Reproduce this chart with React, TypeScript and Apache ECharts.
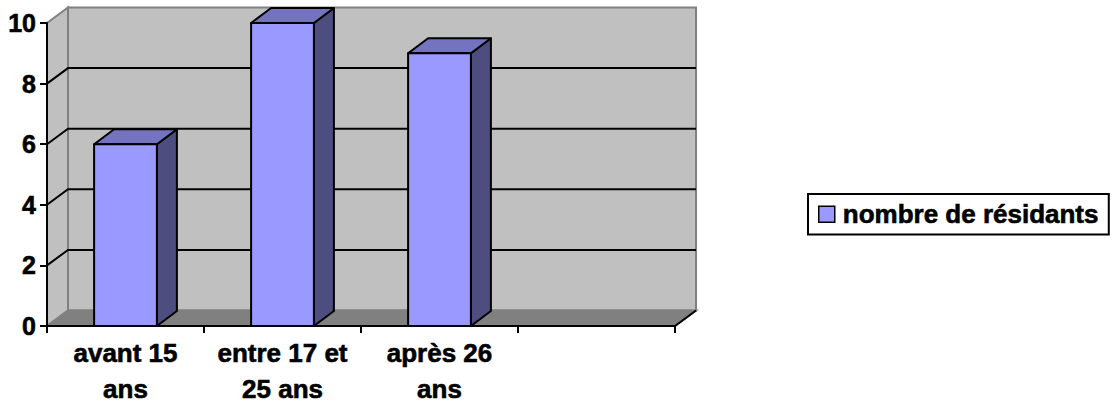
import React, { useEffect, useRef } from "react";
import * as echarts from "echarts";

const categories = ["avant 15\nans", "entre 17 et\n25 ans", "après 26\nans", ""];
const residents = [6, 10, 9];
const yTicks = [0, 2, 4, 6, 8, 10];
const seriesName = "nombre de résidants";

const WALL_DX = 21;
const WALL_DY = -15.5;
const BAR_DX = 20;
const BAR_DY = -15;
const FRONT = "#9999FF";
const TOP = "#7373BF";
const SIDE = "#4D4D80";
const WALL = "#C0C0C0";
const FLOOR = "#808080";
const EDGE = "#808080";
const FONT = "'Liberation Sans', Arial, Helvetica, sans-serif";

export default function App() {
  const ref = useRef<HTMLDivElement>(null);

  useEffect(() => {
    const chart = echarts.init(ref.current!, null, { renderer: "svg" });
    const yMin = yTicks[0];
    const yMax = yTicks[yTicks.length - 1];
    const heavy = { textBorderColor: "#000", textBorderWidth: 0.6 };

    const option: any = {
      animation: false,
      backgroundColor: "#ffffff",
      textStyle: { fontFamily: FONT, fontWeight: "bold", color: "#000" },
      grid: { left: 47, right: 444, top: 23, bottom: 76, containLabel: false },
      xAxis: {
        type: "category",
        data: categories,
        z: 10,
        axisLine: { show: true, lineStyle: { color: "#000", width: 2 } },
        axisTick: { show: true, length: 7, lineStyle: { color: "#000", width: 2 } },
        axisLabel: {
          interval: 0,
          fontSize: 26,
          fontWeight: "bold",
          fontFamily: FONT,
          color: "#000",
          lineHeight: 36,
          margin: 9,
          ...heavy,
        },
        splitLine: { show: false },
      },
      yAxis: {
        type: "value",
        min: yMin,
        max: yMax,
        interval: 2,
        z: 10,
        axisLine: { show: true, lineStyle: { color: "#000", width: 2 } },
        axisTick: { show: true, length: 7, lineStyle: { color: "#000", width: 2 } },
        axisLabel: {
          fontSize: 25,
          fontWeight: "bold",
          fontFamily: FONT,
          color: "#000",
          margin: 11,
          ...heavy,
        },
        splitLine: { show: false },
      },
      legend: {
        data: [seriesName],
        left: 808,
        top: 194,
        orient: "vertical",
        backgroundColor: "#fff",
        borderColor: "#000",
        borderWidth: 2,
        borderRadius: 0,
        padding: [7, 10, 7, 10],
        icon: "rect",
        itemWidth: 16,
        itemHeight: 16,
        itemStyle: { borderColor: "#000", borderWidth: 1.5 },
        textStyle: {
          fontSize: 26,
          fontWeight: "bold",
          fontFamily: FONT,
          color: "#000",
          padding: [0, 0, 0, 3],
          lineHeight: 26,
          ...heavy,
        },
      },
      series: [
        {
          type: "custom",
          name: "walls",
          z: 1,
          silent: true,
          data: [[0, 0]],
          renderItem: (params: any, api: any) => {
            const cs = params.coordSys;
            const x0 = cs.x;
            const x1 = cs.x + cs.width;
            const yTop = api.coord([0, yMax])[1];
            const yBot = api.coord([0, yMin])[1];
            const children: any[] = [];
            children.push({
              type: "polygon",
              shape: {
                points: [
                  [x0 + WALL_DX, yTop + WALL_DY],
                  [x1 + WALL_DX, yTop + WALL_DY],
                  [x1 + WALL_DX, yBot + WALL_DY],
                  [x0 + WALL_DX, yBot + WALL_DY],
                ],
              },
              style: { fill: WALL, stroke: EDGE, lineWidth: 2 },
            });
            children.push({
              type: "polygon",
              shape: {
                points: [
                  [x0, yTop],
                  [x0 + WALL_DX, yTop + WALL_DY],
                  [x0 + WALL_DX, yBot + WALL_DY],
                  [x0, yBot],
                ],
              },
              style: { fill: WALL, stroke: EDGE, lineWidth: 2 },
            });
            children.push({
              type: "polygon",
              shape: {
                points: [
                  [x0, yBot],
                  [x0 + WALL_DX, yBot + WALL_DY],
                  [x1 + WALL_DX, yBot + WALL_DY],
                  [x1, yBot],
                ],
              },
              style: { fill: FLOOR, stroke: EDGE, lineWidth: 2 },
            });
            children.push({
              type: "line",
              shape: { x1: x1, y1: yBot, x2: x1 + WALL_DX, y2: yBot + WALL_DY },
              style: { stroke: "#000", lineWidth: 2 },
            });
            yTicks.forEach((v) => {
              if (v <= yMin || v >= yMax) return;
              const y = api.coord([0, v])[1];
              children.push({
                type: "polyline",
                shape: {
                  points: [
                    [x0, y],
                    [x0 + WALL_DX, y + WALL_DY],
                    [x1 + WALL_DX, y + WALL_DY],
                  ],
                },
                style: { stroke: "#000", lineWidth: 2, fill: "none" },
              });
            });
            return { type: "group", children };
          },
        },
        {
          type: "custom",
          name: seriesName,
          z: 5,
          itemStyle: { color: FRONT },
          data: residents.map((v, i) => [i, v]),
          renderItem: (params: any, api: any) => {
            const i = api.value(0);
            const v = api.value(1);
            const top = api.coord([i, v]);
            const bot = api.coord([i, 0]);
            const w = api.size([1, 0])[0] * 0.4;
            const xl = top[0] - w / 2;
            const xr = top[0] + w / 2;
            const yt = top[1];
            const yb = bot[1];
            const edge = { stroke: "#000", lineWidth: 2, lineJoin: "round" };
            return {
              type: "group",
              children: [
                {
                  type: "polygon",
                  shape: {
                    points: [
                      [xr, yt],
                      [xr + BAR_DX, yt + BAR_DY],
                      [xr + BAR_DX, yb + BAR_DY],
                      [xr, yb],
                    ],
                  },
                  style: { fill: SIDE, ...edge },
                },
                {
                  type: "polygon",
                  shape: {
                    points: [
                      [xl, yt],
                      [xl + BAR_DX, yt + BAR_DY],
                      [xr + BAR_DX, yt + BAR_DY],
                      [xr, yt],
                    ],
                  },
                  style: { fill: TOP, ...edge },
                },
                {
                  type: "rect",
                  shape: { x: xl, y: yt, width: w, height: yb - yt },
                  style: { fill: FRONT, ...edge },
                },
              ],
            };
          },
        },
      ],
    };

    chart.setOption(option);
    return () => chart.dispose();
  }, []);

  return (
    <div
      ref={ref}
      style={{ position: "absolute", left: 0, top: 0, width: 1119, height: 407 }}
    />
  );
}
